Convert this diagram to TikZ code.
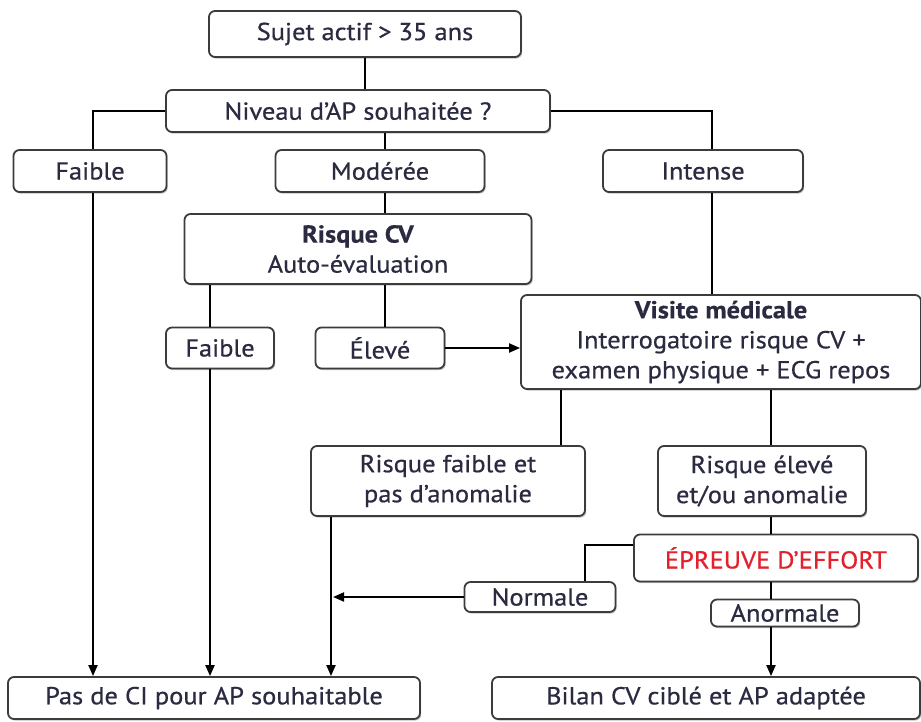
\documentclass[tikz,border=0pt]{standalone}
\usepackage{fontspec}
\setmainfont{PT Sans}[FakeStretch=1.08, UprightFeatures={FakeBold=0.6}, BoldFeatures={FakeBold=0.3}]
\usetikzlibrary{arrows.meta,shadows}
\definecolor{ink}{HTML}{2A2A40}
\definecolor{rim}{HTML}{3C3C3C}
\definecolor{alert}{HTML}{E3202B}
\begin{document}
\begin{tikzpicture}[x=1pt,y=-1pt,
  box/.style={draw=rim, line width=1.8pt, rounded corners=6pt, fill=white,
    inner sep=0pt, align=center, text=ink,
    drop shadow={shadow xshift=1.2pt, shadow yshift=-1.6pt, fill=black!35, opacity=0.7},
    font=\fontsize{24.5}{30}\selectfont},
  link/.style={line width=2pt, draw=black},
  arrow/.style={link, -{Triangle[length=11pt,width=9pt]}}]
\useasboundingbox (0,0) rectangle (921,722);

% guide columns for the vertical connectors
\coordinate (cA) at (93,0);
\coordinate (cB) at (210,0);
\coordinate (cC) at (385,0);
\coordinate (cD) at (331,0);
\coordinate (cE) at (712,0);
\coordinate (cF) at (561,0);
\coordinate (cG) at (771,0);
\coordinate (cH) at (585,0);
\coordinate (yE) at (0,545);

% boxes
\node[box, minimum width=312, minimum height=46] (sujet) at (365,34) {Sujet actif > 35 ans};
\node[box, minimum width=384, minimum height=42] (niveau) at (358,111) {Niveau d'AP souhaitée ?};
\node[box, minimum width=153, minimum height=42] (faibleA) at (90,171) {Faible};
\node[box, minimum width=209, minimum height=42] (moderee) at (380,171) {Modérée};
\node[box, minimum width=200, minimum height=42] (intense) at (703,171) {Intense};
\node[box, minimum width=347, minimum height=70] (risque) at (358,249) {\textbf{Risque CV}\\Auto-évaluation};
\node[box, minimum width=108, minimum height=41] (faibleB) at (220,348) {Faible};
\node[box, minimum width=129, minimum height=41] (eleve) at (380,348) {Élevé};
\node[box, minimum width=400, minimum height=94] (visite) at (721,342) {\textbf{Visite médicale}\\Interrogatoire risque CV +\\examen physique + ECG repos};
\node[box, minimum width=274, minimum height=70] (rfaible) at (448,481) {Risque faible et\\pas d'anomalie};
\node[box, minimum width=208, minimum height=70] (relev) at (762,481) {Risque élevé\\et/ou anomalie};
\node[box, minimum width=284, minimum height=47, text=alert] (epreuve) at (776,558) {ÉPREUVE D'EFFORT};
\node[box, minimum width=151, minimum height=30] (normale) at (540,597) {Normale};
\node[box, minimum width=148, minimum height=27] (anormale) at (785,613) {Anormale};
\node[box, minimum width=412, minimum height=42] (pasci) at (214,698) {Pas de CI pour AP souhaitable};
\node[box, minimum width=428, minimum height=42] (bilan) at (706,698) {Bilan CV ciblé et AP adaptée};

% connectors
\draw[link] (sujet.south) -- (sujet.south |- niveau.north);
\draw[link] (niveau.west) -| (faibleA.north -| cA);
\draw[link] (niveau.east) -| (intense.north -| cE);
\draw[link] (niveau.south -| cC) -- (moderee.north -| cC);
\draw[link] (moderee.south -| cC) -- (risque.north -| cC);
\draw[link] (risque.south -| cB) -- (faibleB.north -| cB);
\draw[link] (risque.south -| cC) -- (eleve.north -| cC);
\draw[link] (intense.south -| cE) -- (visite.north -| cE);
\draw[arrow] (eleve.east) -- (eleve.east -| visite.west);
\draw[link] (visite.south -| cF) -- (rfaible.north -| cF);
\draw[link] (visite.south -| cG) -- (relev.north -| cG);
\draw[link] (relev.south -| cG) -- (epreuve.north -| cG);
\draw[link] (epreuve.west |- yE) -| (normale.north -| cH);
\draw[arrow] (normale.west) -- ([xshift=2pt]normale.west -| cD);
\draw[arrow] (faibleA.south -| cA) -- (pasci.north -| cA);
\draw[arrow] (faibleB.south -| cB) -- (pasci.north -| cB);
\draw[arrow] (rfaible.south -| cD) -- (pasci.north -| cD);
\draw[link] (epreuve.south -| cG) -- (anormale.north -| cG);
\draw[arrow] (anormale.south -| cG) -- (bilan.north -| cG);
\end{tikzpicture}
\end{document}
